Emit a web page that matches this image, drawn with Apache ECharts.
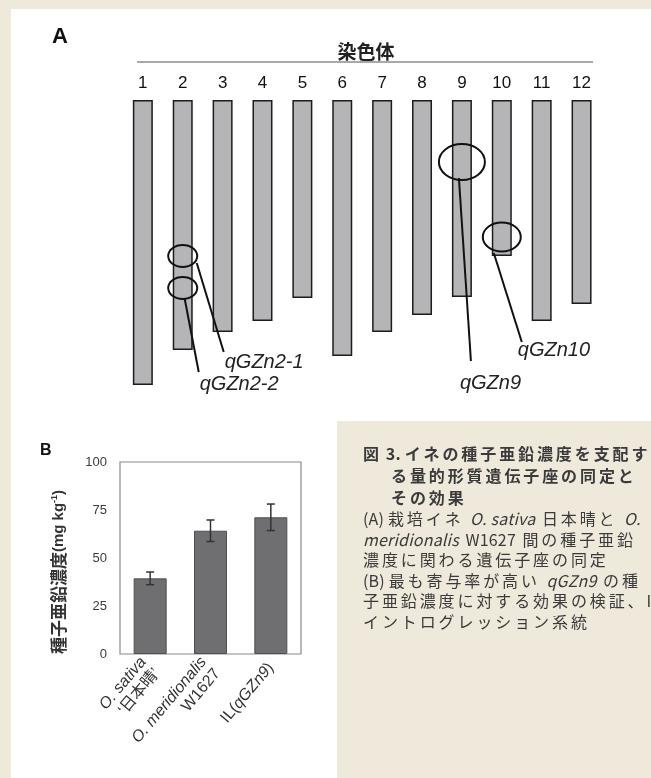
<!DOCTYPE html>
<html lang="ja">
<head>
<meta charset="utf-8">
<title>イネの種子亜鉛濃度を支配する量的形質遺伝子座</title>
<script src="https://cdn.jsdelivr.net/npm/echarts@6/dist/echarts.min.js"></script>
<style>
  html, body { margin: 0; padding: 0; width: 651px; height: 778px; overflow: hidden; background: #efe9dc; }
  #main { position: absolute; left: 0; top: 0; width: 651px; height: 778px; }
  /* 図の説明文（字間を空けるので HTML で書く） */
  #caption {
    position: absolute; left: 363px; top: 442px;
    color: #3a3a3a; font-family: "Noto Sans CJK JP", sans-serif; font-size: 16px;
    letter-spacing: 2.9px; white-space: nowrap;
  }
  #caption .title { font-weight: bold; line-height: 22px; }
  #caption .title .indent { padding-left: 28px; }
  #caption .body { line-height: 20.5px; }
  #caption .l { letter-spacing: 0.2px; }
</style>
</head>
<body>
<div id="main"></div>
<div id="caption">
  <div class="title">
    <div>図<span class="l"> 3. </span>イネの種子亜鉛濃度を支配す</div>
    <div class="indent">る量的形質遺伝子座の同定と</div>
    <div class="indent">その効果</div>
  </div>
  <div class="body">
    <div><span class="l">(A) </span>栽培イネ <i class="l">O. sativa</i> 日本晴と <i class="l">O.</i></div>
    <div><i class="l">meridionalis</i> <span class="l">W1627</span> 間の種子亜鉛</div>
    <div>濃度に関わる遺伝子座の同定</div>
    <div><span class="l">(B) </span>最も寄与率が高い <i class="l">qGZn9</i> の種</div>
    <div>子亜鉛濃度に対する効果の検証、<span class="l">IL:</span></div>
    <div>イントログレッション系統</div>
  </div>
</div>
<script>
// A: 染色体と QTL
var chromNames = ['1', '2', '3', '4', '5', '6', '7', '8', '9', '10', '11', '12'];
var chromLength = [285, 250, 232, 221, 198, 256, 232, 215, 197, 156, 221, 204];
var qtlNames = ['qGZn2-1', 'qGZn2-2', 'qGZn9', 'qGZn10'];
var qtlChrom = [2, 2, 9, 10];
var qtlPos = [156, 188, 62, 137];

// B: 種子亜鉛濃度 (mg kg-1)
var lineNames = ['O. sativa\n‘日本晴’', 'O. meridionalis\nW1627', 'IL(qGZn9)'];
var znMean = [39.4, 64.2, 71.2];
var znErr = [3.3, 5.6, 6.9];
var znTicks = [0, 25, 50, 75, 100];

// QTL の円・引き出し線・ラベルの配置（円の中心からのずれ, px）
var qtlRing = [[29, 22], [29, 22], [46, 36], [38, 29]];
var qtlLeader = [[14, 7, 41, 96], [2, 11, 16, 84], [-3, 16, 9, 199], [-8, 16, 20, 105]];
var qtlLabel = [[42, 106], [17, 96], [-2, 221], [16, 113]];

var latin = '"Liberation Sans", Arial, "Noto Sans CJK JP", sans-serif';

var chart = echarts.init(document.getElementById('main'));

var option = {
  animation: false,
  graphic: [
    { type: 'rect', z: -10, shape: { x: 11, y: 9, width: 640, height: 769 }, style: { fill: '#ffffff' } },
    { type: 'rect', z: -9, shape: { x: 337, y: 421, width: 314, height: 357 }, style: { fill: '#efe9dc' } },
    { type: 'text', x: 52, y: 37, style: { text: 'A', fill: '#111', font: 'bold 22px ' + latin, verticalAlign: 'middle' } },
    { type: 'text', x: 366, y: 52, style: { text: '染色体', fill: '#222', font: 'bold 19px "Noto Sans CJK JP"', align: 'center', verticalAlign: 'middle' } },
    { type: 'line', shape: { x1: 137, y1: 62, x2: 593, y2: 62 }, style: { stroke: '#8c8c8c', lineWidth: 1.5 } },
    { type: 'text', x: 40, y: 451, style: { text: 'B', fill: '#111', font: 'bold 16px ' + latin, verticalAlign: 'middle' } },
    {
      type: 'text', x: 59, y: 572, rotation: Math.PI / 2,
      style: {
        text: '{a|種子亜鉛濃度}{b|(mg kg}{s|-1}{b|)}',
        align: 'center', verticalAlign: 'middle', fill: '#333',
        rich: {
          a: { font: 'bold 17px "Noto Sans CJK JP"', fill: '#333' },
          b: { font: 'bold 15px ' + latin, fill: '#333' },
          s: { font: 'bold 9px ' + latin, fill: '#333', verticalAlign: 'top' }
        }
      }
    }
  ],
  grid: [
    { left: 122.9, top: 100, width: 478.6, height: 300 },
    { left: 120, top: 462, width: 181, height: 192, show: true, backgroundColor: '#fff', borderColor: '#8a8a8a', borderWidth: 1.2 }
  ],
  xAxis: [
    {
      gridIndex: 0, type: 'category', data: chromNames, position: 'top',
      axisLine: { show: false }, axisTick: { show: false },
      axisLabel: { fontSize: 17, color: '#111', fontFamily: latin, margin: 8 }
    },
    {
      gridIndex: 1, type: 'category', data: lineNames,
      axisLine: { show: false }, axisTick: { show: false },
      axisLabel: {
        interval: 0, rotate: 50, margin: 11, fontSize: 16, color: '#333', fontFamily: latin, lineHeight: 18,
        formatter: function (v) {
          return v.split('\n').map(function (line) {
            return line.replace(/(O\. [a-z]+|qGZn\d+)/g, '{i|$1}');
          }).join('\n');
        },
        rich: { i: { fontStyle: 'italic', fontSize: 16, fontFamily: latin, color: '#333', lineHeight: 18 } }
      }
    }
  ],
  yAxis: [
    { gridIndex: 0, type: 'value', inverse: true, min: 0, max: 300, show: false },
    {
      gridIndex: 1, type: 'value', min: znTicks[0], max: znTicks[znTicks.length - 1], interval: 25,
      splitLine: { show: false }, axisLine: { show: false }, axisTick: { show: false },
      axisLabel: { fontSize: 13, color: '#3a3a3a', fontFamily: latin, margin: 13 }
    }
  ],
  series: [
    {
      // 染色体
      type: 'bar', xAxisIndex: 0, yAxisIndex: 0, data: chromLength, barWidth: 20, silent: true,
      itemStyle: { color: '#b5b5b7', borderColor: '#1c1c1c', borderWidth: 1.5 }
    },
    {
      // QTL の位置
      type: 'custom', xAxisIndex: 0, yAxisIndex: 0, z: 5, silent: true,
      data: qtlChrom.map(function (c, i) { return [c - 1, qtlPos[i]]; }),
      renderItem: function (params, api) {
        var i = params.dataIndex;
        var p = api.coord([api.value(0), api.value(1)]);
        var r = qtlRing[i], ld = qtlLeader[i], lb = qtlLabel[i];
        return {
          type: 'group',
          children: [
            { type: 'ellipse', shape: { cx: p[0], cy: p[1], rx: r[0] / 2, ry: r[1] / 2 }, style: { fill: 'none', stroke: '#111', lineWidth: 2 } },
            { type: 'line', shape: { x1: p[0] + ld[0], y1: p[1] + ld[1], x2: p[0] + ld[2], y2: p[1] + ld[3] }, style: { stroke: '#111', lineWidth: 2 } },
            { type: 'text', x: p[0] + lb[0], y: p[1] + lb[1], style: { text: qtlNames[i], fill: '#222', font: 'italic 20px ' + latin, align: 'left', verticalAlign: 'middle' } }
          ]
        };
      }
    },
    {
      // 種子亜鉛濃度
      type: 'bar', xAxisIndex: 1, yAxisIndex: 1, data: znMean, barWidth: 33, silent: true,
      itemStyle: { color: '#6f6f72', borderColor: '#4e4e50', borderWidth: 1 }
    },
    {
      // 誤差線
      type: 'custom', xAxisIndex: 1, yAxisIndex: 1, z: 5, silent: true,
      data: znMean.map(function (m, i) { return [i, m - znErr[i], m + znErr[i]]; }),
      encode: { x: 0, y: [1, 2] },
      renderItem: function (params, api) {
        var lo = api.coord([api.value(0), api.value(1)]);
        var hi = api.coord([api.value(0), api.value(2)]);
        var w = 4;
        var st = { stroke: '#333', lineWidth: 1.5 };
        return {
          type: 'group',
          children: [
            { type: 'line', shape: { x1: hi[0], y1: hi[1], x2: lo[0], y2: lo[1] }, style: st },
            { type: 'line', shape: { x1: hi[0] - w, y1: hi[1], x2: hi[0] + w, y2: hi[1] }, style: st },
            { type: 'line', shape: { x1: lo[0] - w, y1: lo[1], x2: lo[0] + w, y2: lo[1] }, style: st }
          ]
        };
      }
    }
  ]
};

chart.setOption(option);
</script>
</body>
</html>
